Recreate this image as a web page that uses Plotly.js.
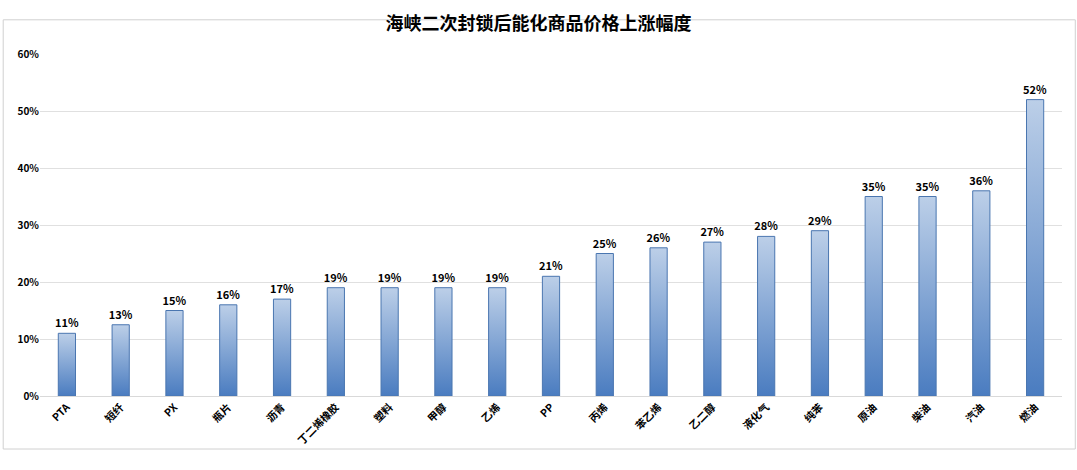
<!DOCTYPE html>
<html><head><meta charset="utf-8">
<script src="https://cdn.plot.ly/plotly-3.0.1.min.js"></script>
<style>html,body{margin:0;padding:0;background:#fff}#chart{width:1077px;height:470px}</style>
</head><body><div id="chart"></div>
<script>
const categories = ["PTA","短纤","PX","瓶片","沥青","丁二烯橡胶","塑料","甲醇","乙烯","PP","丙烯","苯乙烯","乙二醇","液化气","纯苯","原油","柴油","汽油","燃油"];
const values = [0.11,0.125,0.15,0.16,0.17,0.19,0.19,0.19,0.19,0.21,0.25,0.26,0.27,0.28,0.29,0.35,0.35,0.36,0.52];
const labels = ["11%","13%","15%","16%","17%","19%","19%","19%","19%","21%","25%","26%","27%","28%","29%","35%","35%","36%","52%"];
const yTicks = [0,0.1,0.2,0.3,0.4,0.5,0.6];
const yTickText = ["0%","10%","20%","30%","40%","50%","60%"];

const font = "'Noto Sans CJK SC', 'Noto Sans', sans-serif";
const trace = {
  type: 'bar', x: categories, y: values, width: 0.32,
  text: labels, textposition: 'outside', cliponaxis: false, constraintext: 'none',
  textfont: {family: font, size: 11, color: '#000', weight: 'bold'},
  marker: {color: '#7fa2d4', line: {color: '#4a76b0', width: 1}},
  hoverinfo: 'x+y'
};
const layout = {
  width: 1077, height: 470,
  margin: {l: 40, r: 15, t: 54, b: 74},
  paper_bgcolor: '#fff', plot_bgcolor: '#fff',
  title: {text: '海峡二次封锁后能化商品价格上涨幅度', x: 0.5, xanchor: 'center', y: 0.95, yanchor: 'middle',
    font: {family: font, size: 18, color: '#000', weight: 'bold'}},
  xaxis: {type: 'category', tickangle: -45, showgrid: false, showline: true, linecolor: '#d9d9d9', linewidth: 1,
    ticks: '', tickfont: {family: font, size: 10.5, color: '#000', weight: 'bold'}, fixedrange: true},
  yaxis: {range: [0, 0.6], tickvals: yTicks, ticktext: yTickText, showgrid: true, gridcolor: '#e0e0e0', gridwidth: 1,
    zeroline: false, showline: false, ticks: '', tickfont: {family: font, size: 10, color: '#000', weight: 'bold'}, fixedrange: true},
  shapes: [{type: 'rect', xref: 'paper', yref: 'paper', x0: -0.036, x1: 1.013, y0: -0.155, y1: 1.10,
    line: {color: '#d0d0d0', width: 1}, fillcolor: 'rgba(0,0,0,0)'}],
  showlegend: false, bargap: 0.68
};
Plotly.newPlot('chart', [trace], layout, {displayModeBar: false, staticPlot: true}).then(function(gd){
  const svg = gd.querySelector('svg.main-svg');
  const ns = 'http://www.w3.org/2000/svg';
  let defs = svg.querySelector('defs');
  if (!defs) { defs = document.createElementNS(ns, 'defs'); svg.insertBefore(defs, svg.firstChild); }
  const g = document.createElementNS(ns, 'linearGradient');
  g.setAttribute('id', 'barGrad'); g.setAttribute('x1', '0'); g.setAttribute('y1', '0'); g.setAttribute('x2', '0'); g.setAttribute('y2', '1');
  [['0%','#bccfe8'],['100%','#4a7cc0']].forEach(function(s){
    const st = document.createElementNS(ns, 'stop'); st.setAttribute('offset', s[0]); st.setAttribute('stop-color', s[1]); g.appendChild(st);
  });
  defs.appendChild(g);
  gd.querySelectorAll('.bars .point path').forEach(function(p){ p.style.fill = 'url(#barGrad)'; p.style.fillOpacity = 1; });
});
</script></body></html>
